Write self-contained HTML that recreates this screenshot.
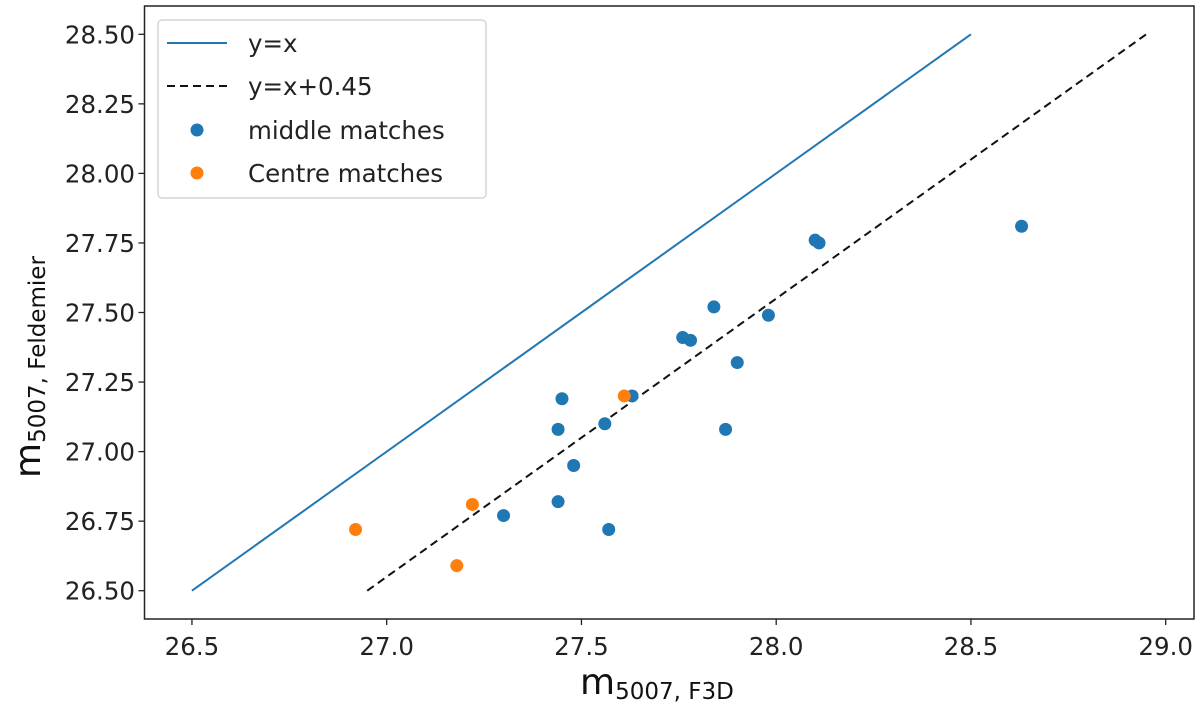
<!DOCTYPE html>
<html><head><meta charset="utf-8"><style>
body{margin:0;background:#fff;}
svg{font-family:"DejaVu Sans","Liberation Sans",sans-serif;}
</style></head><body>
<svg id="chart" width="1200" height="706">
<g id="plot"></g>
</svg>
<script>
const xTicks=[26.5,27.0,27.5,28.0,28.5,29.0];
const yTicks=[26.5,26.75,27.0,27.25,27.5,27.75,28.0,28.25,28.5];
const blueX=[27.30,27.44,27.44,27.45,27.48,27.56,27.57,27.63,27.76,27.78,27.84,27.90,27.87,27.98,28.10,28.11,28.63];
const blueY=[26.77,26.82,27.08,27.19,26.95,27.10,26.72,27.20,27.41,27.40,27.52,27.32,27.08,27.49,27.76,27.75,27.81];
const orangeX=[26.92,27.18,27.22,27.61];
const orangeY=[26.72,26.59,26.81,27.20];
const line1X=[26.5,28.5];
const offset=0.45;
const NS='http://www.w3.org/2000/svg';
const svg=document.getElementById('chart');
function X(v){return 386.7+(v-27)*389.5;}
function Y(v){return 590.7-(v-26.5)*278.2;}
function mk(t,a,p){const e=document.createElementNS(NS,t);for(const k in a)e.setAttribute(k,a[k]);(p||svg).appendChild(e);return e;}
const fr=mk('rect',{x:144.5,y:6,width:1049.5,height:613,fill:'none',stroke:'#222','stroke-width':1.5});


xTicks.forEach(v=>{
  const t=mk('line',{x1:X(v),x2:X(v),y1:619,y2:625,stroke:'#222','stroke-width':1.3});
  
  
  const l=mk('text',{x:X(v),y:655,'text-anchor':'middle','font-size':24.5,fill:'#222'});
  l.textContent=v.toFixed(1);
  
  
});
yTicks.forEach(v=>{
  const t=mk('line',{x1:138.5,x2:144.5,y1:Y(v),y2:Y(v),stroke:'#222','stroke-width':1.3});
  
  
  const l=mk('text',{x:135,y:Y(v)+9,'text-anchor':'end','font-size':24.5,fill:'#222'});
  l.textContent=v.toFixed(2);
  
  
});
const l1=mk('line',{x1:X(line1X[0]),y1:Y(line1X[0]),x2:X(line1X[1]),y2:Y(line1X[1]),stroke:'#1f77b4','stroke-width':2});


const l2=mk('line',{x1:X(line1X[0]+offset),y1:Y(line1X[0]),x2:X(line1X[1]+offset),y2:Y(line1X[1]),stroke:'#111','stroke-width':2,'stroke-dasharray':'8,5'});


blueX.forEach((v,i)=>{
  const c=mk('circle',{cx:X(v),cy:Y(blueY[i]),r:6.5,fill:'#1f77b4'});
  
  
});
orangeX.forEach((v,i)=>{
  const c=mk('circle',{cx:X(v),cy:Y(orangeY[i]),r:6.5,fill:'#ff7f0e'});
  
  
});
</script>
<svg style="position:absolute;left:0;top:0" width="1200" height="706">
<g font-family="DejaVu Sans, Liberation Sans, sans-serif" font-size="24.5" fill="#222">
<rect x="158" y="20" width="328" height="178" rx="4" fill="#fff" stroke="#ccc" stroke-width="1.2"/>
<line x1="167" y1="43" x2="227" y2="43" stroke="#1f77b4" stroke-width="2"/>
<text x="248" y="52">y=x</text>
<line x1="167" y1="86" x2="227" y2="86" stroke="#111" stroke-width="2" stroke-dasharray="8,5"/>
<text x="248" y="95">y=x+0.45</text>
<circle cx="197" cy="130" r="6.5" fill="#1f77b4"/>
<text x="248" y="139">middle matches</text>
<circle cx="197" cy="173" r="6.5" fill="#ff7f0e"/>
<text x="248" y="182">Centre matches</text>
</g>
<text x="580" y="694" font-family="DejaVu Sans, Liberation Sans, sans-serif" font-size="36" fill="#111">m<tspan font-size="23" dy="5">5007,  F3D</tspan></text>
<text transform="translate(40,478) rotate(-90)" font-family="DejaVu Sans, Liberation Sans, sans-serif" font-size="36" fill="#111">m<tspan font-size="23" dy="5">5007,  Feldemier</tspan></text>
</svg>
</body></html>
